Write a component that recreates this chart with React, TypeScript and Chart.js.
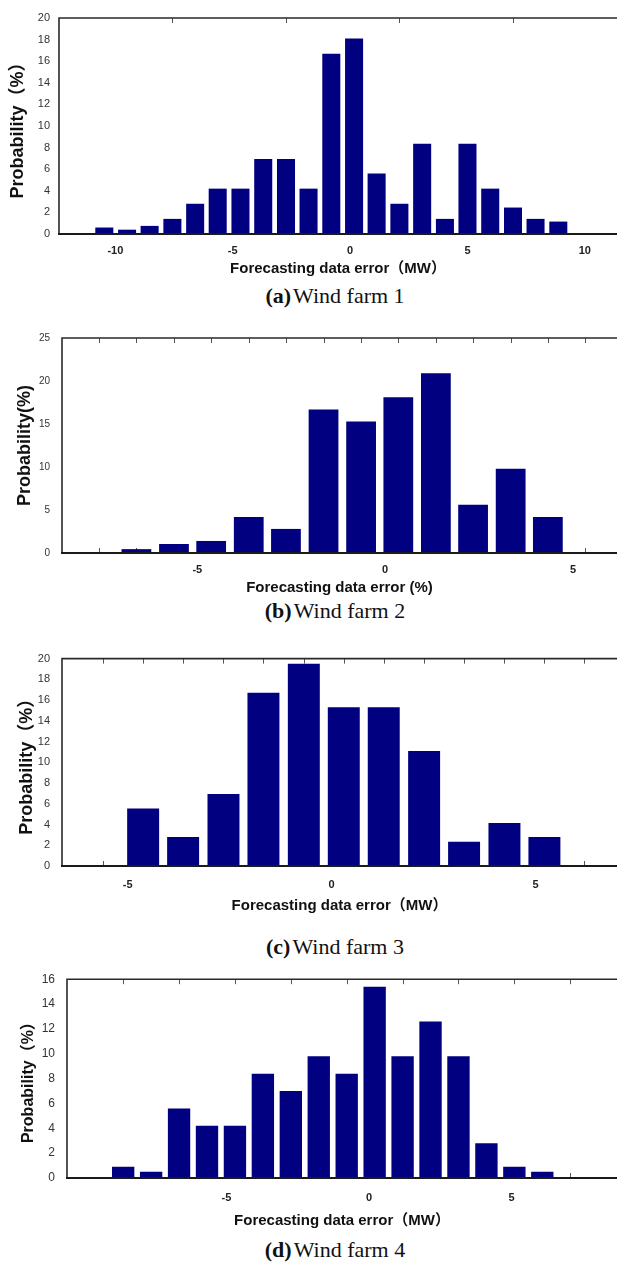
import React, { useEffect, useRef } from "react";
import { Chart, registerables } from "chart.js";

Chart.register(...registerables);

// ---------- Data: panel (a) Wind farm 1 ----------
const binCenters1 = [-10.47, -9.5, -8.54, -7.57, -6.6, -5.64, -4.67, -3.7, -2.73, -1.77, -0.8, 0.17, 1.13, 2.1, 3.07, 4.04, 5.0, 5.97, 6.94, 7.9, 8.87];
const probability1 = [0.6, 0.4, 0.75, 1.4, 2.8, 4.2, 4.2, 6.95, 6.95, 4.2, 16.7, 18.1, 5.6, 2.8, 8.35, 1.4, 8.35, 4.2, 2.45, 1.4, 1.15];
const xTickLabels1 = [-10, -5, 0, 5, 10];
const minorTicks1 = [-7.57, -2.73, 2.1, 6.94];

// ---------- Data: panel (b) Wind farm 2 ----------
const binCenters2 = [-6.62, -5.62, -4.63, -3.63, -2.64, -1.64, -0.64, 0.35, 1.35, 2.34, 3.34, 4.33];
const probability2 = [0.45, 1.05, 1.4, 4.2, 2.8, 16.7, 15.3, 18.1, 20.9, 5.6, 9.8, 4.2];
const xTickLabels2 = [-5, 0, 5];
const minorTicks2 = [-7.62, -6.62, -5.62, -4.63, -3.63, -2.64, -1.64, -0.64, 0.35, 1.35, 2.34, 3.34, 4.33, 5.33];

// ---------- Data: panel (c) Wind farm 3 ----------
const binCenters3 = [-4.62, -3.64, -2.65, -1.67, -0.68, 0.3, 1.28, 2.27, 3.25, 4.24, 5.22];
const probability3 = [5.55, 2.8, 6.95, 16.7, 19.5, 15.3, 15.3, 11.1, 2.35, 4.15, 2.8];
const xTickLabels3 = [-5, 0, 5];
const minorTicks3 = [-5.6, -4.62, -3.64, -2.65, -1.67, -0.68, 0.3, 1.28, 2.27, 3.25, 4.24, 5.22, 6.2];

// ---------- Data: panel (d) Wind farm 4 ----------
const binCenters4 = [-8.62, -7.64, -6.66, -5.68, -4.7, -3.72, -2.74, -1.76, -0.78, 0.2, 1.18, 2.16, 3.14, 4.12, 5.1, 6.08];
const probability4 = [0.9, 0.5, 5.6, 4.2, 4.2, 8.4, 7.0, 9.8, 8.4, 15.4, 9.8, 12.6, 9.8, 2.8, 0.9, 0.5];
const xTickLabels4 = [-5, 0, 5];
const minorTicks4 = [-8.62, -6.66, -4.7, -2.74, -0.78, 1.18, 3.14, 5.1, 7.06];

const NARROW = "'Liberation Sans Narrow', 'Arial Narrow', 'Liberation Sans', Arial, 'Noto Sans CJK SC', sans-serif";
const SANS = "'Liberation Sans', Arial, 'Noto Sans CJK SC', sans-serif";
const BAR_COLOR = "#000080";

type PanelCfg = {
  centers: number[];
  values: number[];
  xTicks: number[];
  minor: number[];
  xMin: number;
  xMax: number;
  yMax: number;
  yStep: number;
  yTitle: string;
  xTitle: string;
  captionTag: string;
  caption: string;
  top: number;
  height: number;
  padTop: number;
  yAxisW: number;
  xAxisH: number;
  yTitleSize: number;
  yTitlePad: number;
  yTickSize: number;
  yTickPad: number;
  xTickPad: number;
  captionY: number;
};

const panels: PanelCfg[] = [
  {
    centers: binCenters1, values: probability1, xTicks: xTickLabels1, minor: minorTicks1,
    xMin: -12.4, xMax: 11.37, yMax: 20, yStep: 2,
    yTitle: "Probability（%）", xTitle: "Forecasting data error（MW）",
    captionTag: "(a)", caption: "Wind farm 1",
    top: 0, height: 279, padTop: 18, yAxisW: 59, xAxisH: 45,
    yTitleSize: 18, yTitlePad: 7.5, yTickSize: 11, yTickPad: 9, xTickPad: 10, captionY: 296,
  },
  {
    centers: binCenters2, values: probability2, xTicks: xTickLabels2, minor: minorTicks2,
    xMin: -8.6, xMax: 6.17, yMax: 25, yStep: 5,
    yTitle: "Probability(%)", xTitle: "Forecasting data error (%)",
    captionTag: "(b)", caption: "Wind farm 2",
    top: 320, height: 278, padTop: 16, yAxisW: 62, xAxisH: 45,
    yTitleSize: 18, yTitlePad: 14, yTickSize: 10, yTickPad: 12, xTickPad: 10, captionY: 611,
  },
  {
    centers: binCenters3, values: probability3, xTicks: xTickLabels3, minor: minorTicks3,
    xMin: -6.61, xMax: 7.0, yMax: 20, yStep: 2,
    yTitle: "Probability（%）", xTitle: "Forecasting data error（MW）",
    captionTag: "(c)", caption: "Wind farm 3",
    top: 640, height: 276, padTop: 16, yAxisW: 62, xAxisH: 50,
    yTitleSize: 18, yTitlePad: 16, yTickSize: 11, yTickPad: 12, xTickPad: 12, captionY: 947,
  },
  {
    centers: binCenters4, values: probability4, xTicks: xTickLabels4, minor: minorTicks4,
    xMin: -10.59, xMax: 8.7, yMax: 16, yStep: 2,
    yTitle: "Probability（%）", xTitle: "Forecasting data error（MW）",
    captionTag: "(d)", caption: "Wind farm 4",
    top: 960, height: 271, padTop: 15, yAxisW: 67, xAxisH: 53,
    yTitleSize: 16, yTitlePad: 19, yTickSize: 12, yTickPad: 12, xTickPad: 13, captionY: 1250,
  },
];

function makeFramePlugin(minor: number[]) {
  return {
    id: "frameTicks",
    beforeDatasetsDraw(chart: any) {
      const { ctx, chartArea } = chart;
      const xs = chart.scales.x;
      ctx.save();
      ctx.strokeStyle = "#555";
      ctx.lineWidth = 1;
      ctx.beginPath();
      for (const v of minor) {
        const px = Math.round(xs.getPixelForValue(v)) + 0.5;
        ctx.moveTo(px, chartArea.bottom);
        ctx.lineTo(px, chartArea.bottom - 5);
      }
      ctx.stroke();
      ctx.restore();
    },
    afterDatasetsDraw(chart: any) {
      const { ctx, chartArea } = chart;
      const xs = chart.scales.x;
      ctx.save();
      ctx.strokeStyle = "#555";
      ctx.lineWidth = 1;
      ctx.beginPath();
      for (const v of minor) {
        const px = Math.round(xs.getPixelForValue(v)) + 0.5;
        ctx.moveTo(px, chartArea.top);
        ctx.lineTo(px, chartArea.top + 5);
      }
      ctx.stroke();
      ctx.strokeStyle = "#2a2a2a";
      ctx.lineWidth = 1.6;
      ctx.beginPath();
      ctx.moveTo(chartArea.left, chartArea.bottom);
      ctx.lineTo(chartArea.left, chartArea.top);
      ctx.lineTo(chartArea.right, chartArea.top);
      ctx.stroke();
      ctx.strokeStyle = "#1a1a1a";
      ctx.lineWidth = 2.2;
      ctx.beginPath();
      ctx.moveTo(chartArea.left - 1, chartArea.bottom);
      ctx.lineTo(chartArea.right, chartArea.bottom);
      ctx.stroke();
      ctx.restore();
    },
  };
}

function Panel({ cfg }: { cfg: PanelCfg }) {
  const ref = useRef<HTMLCanvasElement | null>(null);
  useEffect(() => {
    if (!ref.current) return;
    const chart = new Chart(ref.current, {
      type: "bar",
      data: {
        datasets: [
          {
            data: cfg.centers.map((x, i) => ({ x, y: cfg.values[i] })),
            backgroundColor: BAR_COLOR,
            borderWidth: 0,
            categoryPercentage: 1,
            barPercentage: 0.8,
          } as any,
        ],
      },
      options: {
        responsive: false,
        animation: false,
        devicePixelRatio: 1,
        layout: { padding: { top: cfg.padTop, left: 0, right: 0, bottom: 0 } },
        plugins: {
          legend: { display: false },
          tooltip: { enabled: false },
        },
        scales: {
          x: {
            type: "linear",
            offset: false,
            min: cfg.xMin,
            max: cfg.xMax,
            grid: { display: false, drawTicks: false },
            border: { display: false },
            ticks: {
              padding: cfg.xTickPad,
              color: "#222",
              font: { family: NARROW, size: 11, weight: "bold" },
              maxRotation: 0,
              autoSkip: false,
            },
            title: {
              display: true,
              text: cfg.xTitle,
              color: "#111",
              font: { family: NARROW, size: 15, weight: "bold" },
              padding: { top: 0, bottom: 1 },
            },
            afterBuildTicks: (scale: any) => {
              scale.ticks = cfg.xTicks.map((v) => ({ value: v }));
            },
            afterFit: (scale: any) => {
              scale.height = cfg.xAxisH;
            },
          } as any,
          y: {
            min: 0,
            max: cfg.yMax,
            grid: { display: false, drawTicks: false },
            border: { display: false },
            ticks: {
              stepSize: cfg.yStep,
              padding: cfg.yTickPad,
              color: "#333",
              font: { family: NARROW, size: cfg.yTickSize },
            },
            title: {
              display: true,
              text: cfg.yTitle,
              color: "#111",
              font: { family: SANS, size: cfg.yTitleSize, weight: "bold" },
              padding: { top: cfg.yTitlePad, bottom: 0 },
            },
            afterFit: (scale: any) => {
              scale.width = cfg.yAxisW;
            },
          } as any,
        },
      },
      plugins: [makeFramePlugin(cfg.minor)],
    });
    return () => chart.destroy();
  }, [cfg]);

  return (
    <>
      <canvas
        ref={ref}
        width={617}
        height={cfg.height}
        style={{ position: "absolute", left: 0, top: cfg.top, width: 617, height: cfg.height }}
      />
      <div
        style={{
          position: "absolute",
          left: 335,
          top: cfg.captionY - 13,
          transform: "translateX(-50%)",
          whiteSpace: "nowrap",
          fontFamily: "'Liberation Serif', 'Times New Roman', serif",
          fontSize: 22,
          lineHeight: "26px",
          color: "#111",
        }}
      >
        <b>{cfg.captionTag}</b>
        <span style={{ marginLeft: 2 }}>{cfg.caption}</span>
      </div>
    </>
  );
}

export default function App() {
  return (
    <div
      style={{
        position: "fixed",
        left: 0,
        top: 0,
        width: 617,
        height: 1262,
        background: "#fff",
        overflow: "hidden",
      }}
    >
      {panels.map((p, i) => (
        <Panel key={i} cfg={p} />
      ))}
    </div>
  );
}
